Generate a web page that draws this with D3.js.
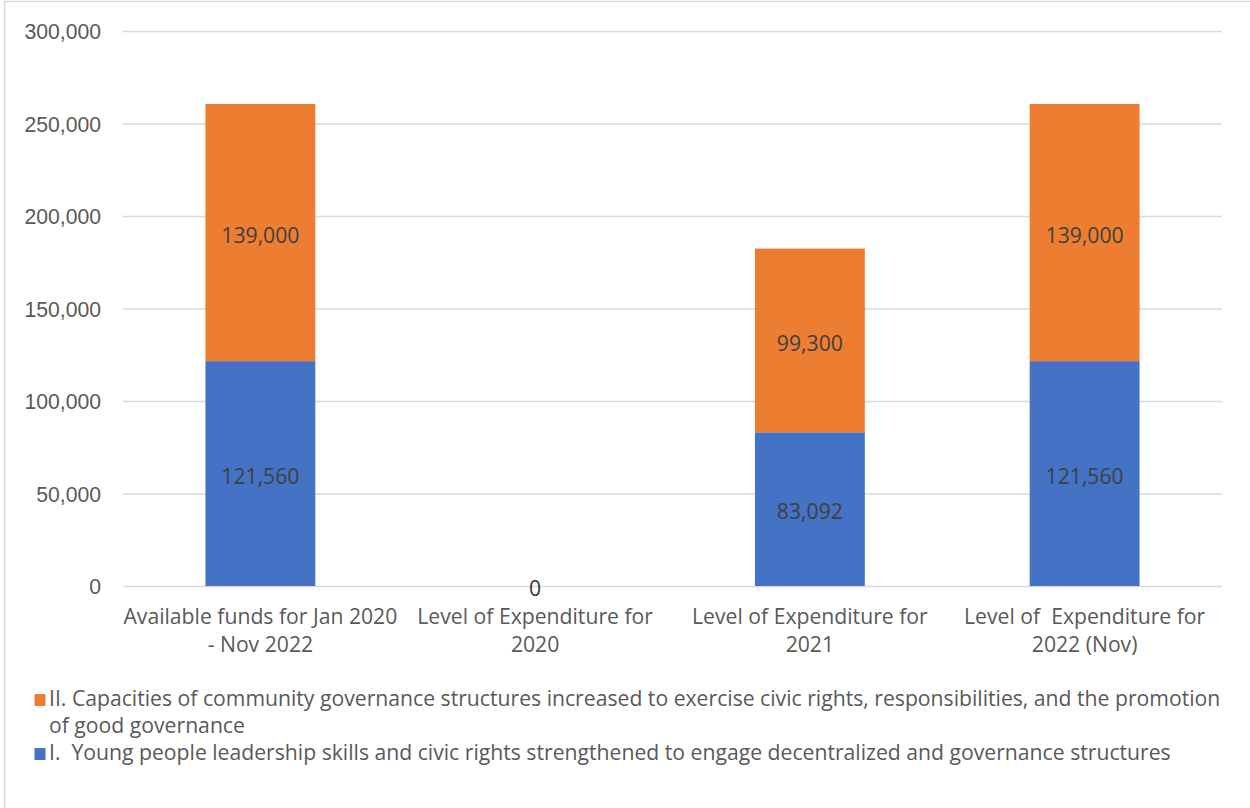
<!DOCTYPE html>
<html>
<head>
<meta charset="utf-8">
<script src="https://cdn.jsdelivr.net/npm/d3@7"></script>
<style>
  html, body { margin: 0; padding: 0; background: #fff; }
  svg { display: block; font-family: "Open Sans", Lato, sans-serif; }
  text { white-space: pre; }
</style>
</head>
<body>
<div id="chart"></div>
<script>
// ### DATA ###
const categories = [
  ['Available funds for Jan 2020', '- Nov 2022'],
  ['Level of Expenditure for', '2020'],
  ['Level of Expenditure for', '2021'],
  ['Level of  Expenditure for', '2022 (Nov)']
];
const seriesNames = [
  'I.  Young people leadership skills and civic rights strengthened to engage decentralized and governance structures',
  'II. Capacities of community governance structures increased to exercise civic rights, responsibilities, and the promotion of good governance'
];
const youthValues = [121560, 0, 83092, 121560];
const communityValues = [139000, 0, 99300, 139000];
const yTicks = [0, 50000, 100000, 150000, 200000, 250000, 300000];

// ### LAYOUT ###
const width = 1250;
const height = 808;
const plot = { left: 123, right: 1222, top: 31, bottom: 586 };
const colors = ['#4472C4', '#ED7D31'];
const textColor = '#595959';
const labelColor = '#404040';
const gridColor = '#D9D9D9';

const svg = d3.select('#chart').append('svg')
  .attr('width', width)
  .attr('height', height);

//>>> Fit the font size: the first legend line should run from x=49 to about x=1222
const legendLine1 = 'II. Capacities of community governance structures increased to exercise civic rights, responsibilities, and the promotion';
const probe = svg.append('text').style('font-size', '20px').text(legendLine1);
const probeW = probe.node().getComputedTextLength();
probe.remove();
const fs = Math.max(14, Math.min(22, 20 * 1172 / probeW));
const fsPx = fs + 'px';

// chart border
svg.append('rect')
  .attr('x', 4.5).attr('y', 1.5)
  .attr('width', width + 10).attr('height', height + 10)
  .attr('fill', 'none')
  .attr('stroke', gridColor)
  .attr('stroke-width', 1.5);

// _____ SCALES _____
const keys = categories.map((c, i) => i);
const x = d3.scaleBand()
  .domain(keys)
  .range([plot.left, plot.right])
  .paddingInner(0.6)
  .paddingOuter(0.3);

const y = d3.scaleLinear()
  .domain([0, 300000])
  .range([plot.bottom, plot.top]);

// _____ GRIDLINES + Y AXIS _____
const yAxis = svg.append('g')
  .attr('transform', `translate(${plot.left},0)`)
  .call(d3.axisLeft(y)
    .tickValues(yTicks)
    .tickSize(-(plot.right - plot.left))
    .tickPadding(22)
    .tickFormat(d3.format(',')));
yAxis.select('.domain').remove();
yAxis.selectAll('.tick line')
  .attr('stroke', gridColor)
  .attr('stroke-width', 1.3);
yAxis.selectAll('.tick text')
  .attr('fill', textColor)
  .attr('dy', '0.36em')
  .style('font-size', fsPx);

// _____ STACKED BARS _____
const rows = keys.map(i => ({ key: i, s0: youthValues[i], s1: communityValues[i] }));
const stacked = d3.stack().keys(['s0', 's1'])(rows);

const layers = svg.append('g').selectAll('g')
  .data(stacked)
  .join('g')
  .attr('fill', (d, i) => colors[i]);

layers.selectAll('rect')
  .data(d => d)
  .join('rect')
  .attr('x', d => x(d.data.key))
  .attr('width', x.bandwidth())
  .attr('y', d => y(d[1]))
  .attr('height', d => y(d[0]) - y(d[1]));

// _____ DATA LABELS _____
const labels = [];
stacked.forEach(layer => {
  layer.forEach(d => {
    const v = d[1] - d[0];
    if (v === 0) return;
    labels.push({ key: d.data.key, v, cy: (y(d[0]) + y(d[1])) / 2 + 2.5 });
  });
});
svg.append('g').selectAll('text')
  .data(labels)
  .join('text')
  .attr('x', d => x(d.key) + x.bandwidth() / 2)
  .attr('y', d => d.cy)
  .attr('dy', '0.36em')
  .attr('text-anchor', 'middle')
  .attr('fill', labelColor)
  .style('font-size', fsPx)
  .text(d => d3.format(',')(d.v));

// zero label for the empty category
rows.filter(r => r.s0 + r.s1 === 0).forEach(r => {
  svg.append('text')
    .attr('x', x(r.key) + x.bandwidth() / 2)
    .attr('y', y(0) + 2)
    .attr('dy', '0.36em')
    .attr('text-anchor', 'middle')
    .attr('fill', '#333')
    .style('font-size', fsPx)
    .text('0');
});

// _____ CATEGORY LABELS _____
const catG = svg.append('g').selectAll('text')
  .data(keys)
  .join('text')
  .attr('text-anchor', 'middle')
  .attr('fill', textColor)
  .style('font-size', fsPx);
catG.selectAll('tspan')
  .data(i => categories[i].map(line => ({ i, line })))
  .join('tspan')
  .attr('x', d => x(d.i) + x.bandwidth() / 2)
  .attr('y', (d, j) => 624 + j * 28)
  .text(d => d.line);

// _____ LEGEND _____
const legendItems = [
  { color: colors[1], lines: [legendLine1, 'of good governance'] },
  { color: colors[0], lines: [seriesNames[0]] }
];
let ly = 706;
legendItems.forEach(item => {
  svg.append('rect')
    .attr('x', 34.5).attr('y', ly - 12)
    .attr('width', 11).attr('height', 12)
    .attr('fill', item.color);
  const t = svg.append('text')
    .attr('fill', textColor)
    .style('font-size', fsPx);
  item.lines.forEach((line, j) => {
    t.append('tspan')
      .attr('x', 49)
      .attr('y', ly + j * 27)
      .text(line);
  });
  ly += item.lines.length * 27;
});
</script>
</body>
</html>
